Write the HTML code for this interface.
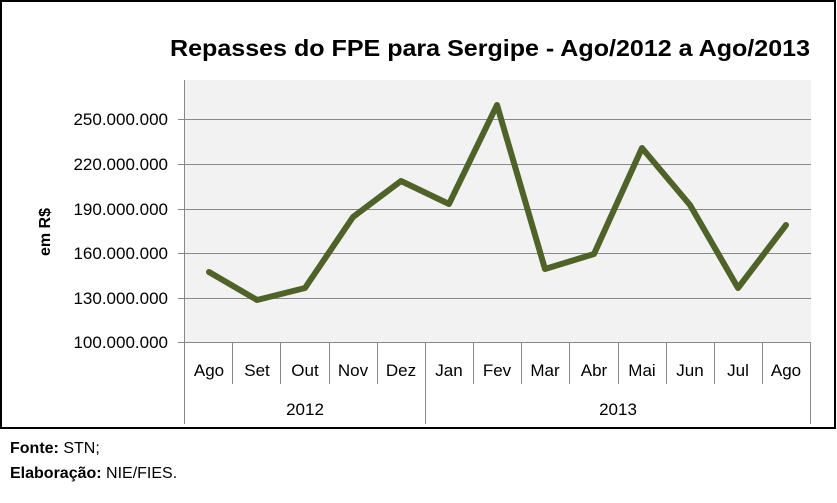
<!DOCTYPE html>
<html><head><meta charset="utf-8"><style>
body{margin:0;background:#fff;}
svg text{font-family:"Liberation Sans",sans-serif;}
</style></head><body>
<svg width="837" height="498" viewBox="0 0 837 498" xmlns="http://www.w3.org/2000/svg">
<rect x="1" y="1" width="834" height="427" fill="#fff" stroke="#000" stroke-width="2"/>
<text x="170" y="56" font-size="23" font-weight="bold" textLength="640" lengthAdjust="spacingAndGlyphs" fill="#000">Repasses do FPE para Sergipe - Ago/2012 a Ago/2013</text>
<rect x="185" y="80" width="626" height="262" fill="#f2f2f2"/>
<g stroke="#888" stroke-width="1">
<line x1="178" y1="119.5" x2="811" y2="119.5"/>
<line x1="178" y1="164.5" x2="811" y2="164.5"/>
<line x1="178" y1="209.5" x2="811" y2="209.5"/>
<line x1="178" y1="253.5" x2="811" y2="253.5"/>
<line x1="178" y1="298.5" x2="811" y2="298.5"/>
<line x1="178" y1="342.5" x2="811" y2="342.5"/>
<line x1="184.5" y1="80" x2="184.5" y2="424"/>
<line x1="232.5" y1="342" x2="232.5" y2="384"/>
<line x1="280.5" y1="342" x2="280.5" y2="384"/>
<line x1="329.5" y1="342" x2="329.5" y2="384"/>
<line x1="377.5" y1="342" x2="377.5" y2="384"/>
<line x1="425.5" y1="342" x2="425.5" y2="424"/>
<line x1="473.5" y1="342" x2="473.5" y2="384"/>
<line x1="521.5" y1="342" x2="521.5" y2="384"/>
<line x1="569.5" y1="342" x2="569.5" y2="384"/>
<line x1="618.5" y1="342" x2="618.5" y2="384"/>
<line x1="666.5" y1="342" x2="666.5" y2="384"/>
<line x1="714.5" y1="342" x2="714.5" y2="384"/>
<line x1="762.5" y1="342" x2="762.5" y2="384"/>
<line x1="810.5" y1="342" x2="810.5" y2="424"/>
</g>
<g font-size="17" fill="#000" text-anchor="end">
<text x="168" y="125">250.000.000</text>
<text x="168" y="170">220.000.000</text>
<text x="168" y="215">190.000.000</text>
<text x="168" y="259">160.000.000</text>
<text x="168" y="304">130.000.000</text>
<text x="168" y="348">100.000.000</text>
</g>
<text transform="translate(50,232) rotate(-90)" font-size="16" font-weight="bold" text-anchor="middle">em R$</text>
<g font-size="17" fill="#000" text-anchor="middle">
<text x="209" y="376">Ago</text><text x="257" y="376">Set</text><text x="305" y="376">Out</text>
<text x="353" y="376">Nov</text><text x="401" y="376">Dez</text><text x="449" y="376">Jan</text>
<text x="497" y="376">Fev</text><text x="545" y="376">Mar</text><text x="594" y="376">Abr</text>
<text x="642" y="376">Mai</text><text x="690" y="376">Jun</text><text x="738" y="376">Jul</text>
<text x="786" y="376">Ago</text>
<text x="305" y="415">2012</text><text x="618" y="415">2013</text>
</g>
<polyline points="209,272 257,300 305,288 353,217 401,181 449,204 497,105 545,269 594,254 642,148 690,205 738,288 786,225" fill="none" stroke="#4f6228" stroke-width="6" stroke-linejoin="round" stroke-linecap="round"/>
<text x="10" y="453" font-size="16"><tspan font-weight="bold">Fonte:</tspan> STN;</text>
<text x="10" y="478" font-size="16"><tspan font-weight="bold">Elaboração:</tspan> NIE/FIES.</text>
</svg>
</body></html>
